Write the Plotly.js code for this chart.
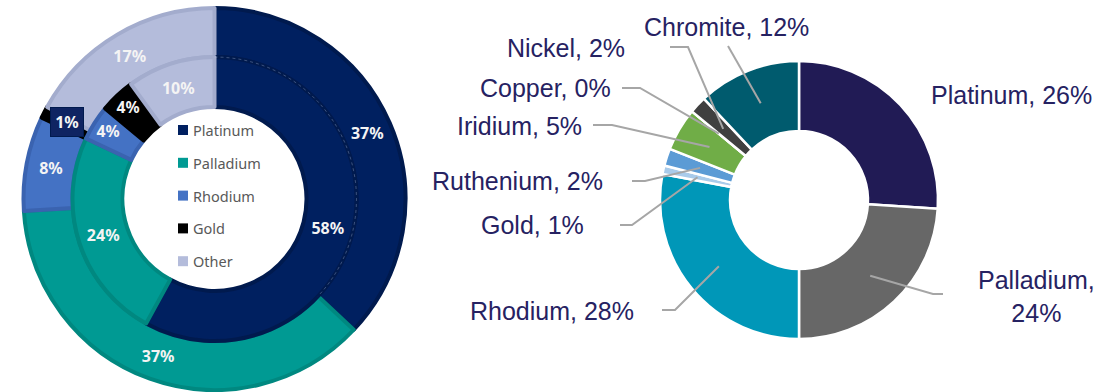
<!DOCTYPE html>
<html>
<head>
<meta charset="utf-8">
<script src="https://cdn.plot.ly/plotly-3.0.1.min.js"></script>
<style>html,body{margin:0;padding:0;background:#fff;}#chart{width:1102px;height:392px;}</style>
</head>
<body>
<div id="chart"></div>
<script>
// ---------- DATA ----------
const leftCategories = ['Platinum', 'Palladium', 'Rhodium', 'Gold', 'Other'];
const outerValues = [37, 37, 8, 1, 17];
const innerValues = [58, 24, 4, 4, 10];

const rightCategories = ['Platinum', 'Palladium', 'Rhodium', 'Gold', 'Ruthenium', 'Iridium', 'Copper', 'Nickel', 'Chromite'];
const rightValues = [26, 24, 28, 1, 2, 5, 0, 2, 12];

// ---------- STYLE ----------
const W = 1102, H = 392;
const leftColors = ['#002060', '#009a93', '#4472c4', '#000000', '#b4bcdb'];
const leftBorders = ['#001a4e', '#008880', '#3a63b0', '#000000', '#a3accd'];
const rightColors = ['#211b55', '#676767', '#0097b8', '#a9cbea', '#5b9bd5', '#70ad47', '#c55a11', '#404040', '#005b6e'];

// right labels layout: text centre (px), leader start/elbow (px), line break flag
const rightLabelLayout = [
  {tx: 1011, ty: 95, line: null, br: false},
  {tx: 1036, ty: 296, line: [943, 933, 294], br: true},
  {tx: 552, ty: 311, line: [662, 675, 310], br: false},
  {tx: 532, ty: 225, line: [620, 632, 225], br: false},
  {tx: 517, ty: 181, line: [632, 645, 181], br: false},
  {tx: 519, ty: 126, line: [593, 612, 125], br: false},
  {tx: 545, ty: 88, line: [622, 640, 88], br: false},
  {tx: 566, ty: 48, line: [670, 688, 47], br: false},
  {tx: 727, ty: 27, line: [728, 728, 46], br: false}
];

function dom(cx, cy, r) {
  return {x: [(cx - r) / W, (cx + r) / W], y: [(H - cy - r) / H, (H - cy + r) / H]};
}
const px = x => x / W;
const py = y => 1 - y / H;

const L = {cx: 214.5, cy: 199, rOut: 191, rMid: 142, rIn: 92};
const R = {cx: 799, cy: 200, r: 139, hole: 69};

const pct = v => v + '%';
const ringFont = {family: 'Noto Sans', size: 16, color: '#f4f4f4', weight: 'bold'};

const traces = [
  {
    type: 'pie', labels: leftCategories, values: outerValues, sort: false, direction: 'clockwise',
    rotation: 0, hole: L.rMid / L.rOut, domain: dom(L.cx, L.cy, L.rOut),
    marker: {colors: leftColors, line: {color: leftBorders, width: 4}},
    text: outerValues.map((v, i) => leftCategories[i] === 'Gold' ? '' : pct(v)),
    texttemplate: '%{text}', textposition: 'inside', insidetextorientation: 'horizontal',
    textfont: ringFont, hoverinfo: 'none', showlegend: false
  },
  {
    type: 'pie', labels: leftCategories, values: innerValues, sort: false, direction: 'clockwise',
    rotation: 0, hole: L.rIn / L.rMid, domain: dom(L.cx, L.cy, L.rMid),
    marker: {colors: leftColors, line: {color: leftBorders, width: 4}},
    text: innerValues.map(pct),
    texttemplate: '%{text}', textposition: 'inside', insidetextorientation: 'horizontal',
    textfont: ringFont, hoverinfo: 'none', showlegend: false
  },
  {
    type: 'pie', labels: rightCategories, values: rightValues, sort: false, direction: 'clockwise',
    rotation: 0, hole: R.hole / R.r, domain: dom(R.cx, R.cy, R.r),
    marker: {colors: rightColors, line: {color: '#ffffff', width: 2.5}},
    textinfo: 'none', hoverinfo: 'none', showlegend: false
  }
];

const annotations = [];
const shapes = [];

// legend in centre of left donut
leftCategories.forEach((c, i) => {
  const yc = 130 + i * 32.8;
  shapes.push({type: 'rect', xref: 'paper', yref: 'paper', x0: px(178), x1: px(188), y0: py(yc + 5), y1: py(yc - 5),
    fillcolor: leftColors[i], line: {width: 0}});
  annotations.push({xref: 'paper', yref: 'paper', x: px(191), y: py(yc), xanchor: 'left', yanchor: 'middle',
    text: c, showarrow: false, font: {family: 'Noto Sans', size: 14.5, color: '#595959'}});
});

// faint dotted ring line between the two Platinum rings
shapes.push({type: 'path', xref: 'paper', yref: 'paper',
  path: (() => {
    const f = outerValues[0] / outerValues.reduce((a, b) => a + b, 0);
    const pts = [];
    for (let k = 0; k <= 40; k++) {
      const th = 2 * Math.PI * f * k / 40;
      pts.push((k ? 'L ' : 'M ') + px(L.cx + L.rMid * Math.sin(th)) + ' ' + py(L.cy - L.rMid * Math.cos(th)));
    }
    return pts.join(' ');
  })(),
  line: {color: 'rgba(200,210,235,0.3)', width: 1, dash: 'dot'}});

// boxed label for the thin outer Gold slice
const gi = leftCategories.indexOf('Gold');
annotations.push({xref: 'paper', yref: 'paper', x: px(66.5), y: py(122), xanchor: 'center', yanchor: 'middle',
  text: pct(outerValues[gi]), showarrow: false, bgcolor: '#0f2462', bordercolor: '#001a4e', borderwidth: 1,
  width: 30, height: 26, font: ringFont});

// right donut labels + leader lines
const total = rightValues.reduce((a, b) => a + b, 0);
let cum = 0;
rightCategories.forEach((c, i) => {
  const f = (cum + rightValues[i] / 2) / total;
  cum += rightValues[i];
  const th = 2 * Math.PI * f;
  const rr = (R.r + R.hole) / 2;
  const ex = R.cx + rr * Math.sin(th);
  const ey = R.cy - rr * Math.cos(th);
  const lay = rightLabelLayout[i];
  annotations.push({xref: 'paper', yref: 'paper', x: px(lay.tx), y: py(lay.ty), xanchor: 'center', yanchor: 'middle',
    text: c + ',' + (lay.br ? '<br>' : ' ') + pct(rightValues[i]), showarrow: false, align: 'center',
    font: {family: 'Liberation Sans, Arial, sans-serif', size: 25, color: '#262262'}});
  if (lay.line) {
    const [x0, x1, y0] = lay.line;
    shapes.push({type: 'path', xref: 'paper', yref: 'paper',
      path: `M ${px(x0)} ${py(y0)} L ${px(x1)} ${py(y0)} L ${px(ex)} ${py(ey)}`,
      line: {color: '#a6a6a6', width: 2}});
  }
});

const layout = {
  width: W, height: H, margin: {l: 0, r: 0, t: 0, b: 0},
  paper_bgcolor: '#ffffff', plot_bgcolor: '#ffffff', showlegend: false,
  annotations: annotations, shapes: shapes
};

Plotly.newPlot('chart', traces, layout, {staticPlot: true, displayModeBar: false});
</script>
</body>
</html>
